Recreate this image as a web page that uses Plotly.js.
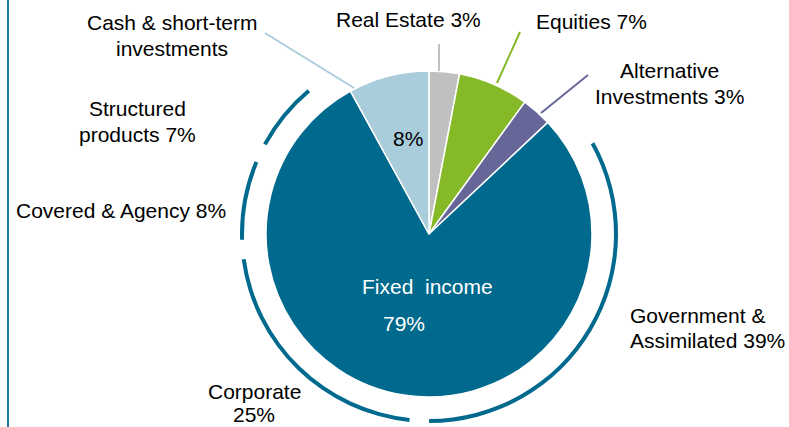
<!DOCTYPE html>
<html><head><meta charset="utf-8">
<script src="https://cdn.plot.ly/plotly-3.0.1.min.js"></script>
<style>html,body{margin:0;padding:0;background:#fff}</style>
</head><body><div id="chart" style="width:789px;height:427px"></div>
<script>
// ---- data ----
const assetClasses = ['Real Estate', 'Equities', 'Alternative Investments', 'Fixed income', 'Cash & short-term investments'];
const assetShares = [3, 7, 3, 79, 8];
const fixedIncomeSegments = ['Government & Assimilated', 'Corporate', 'Covered & Agency', 'Structured products'];
const fixedIncomeShares = [39, 25, 8, 7];

// ---- styles ----
const assetColors = ['#c0c0c0', '#86b928', '#666699', '#006a8e', '#aacddb'];
const ringColor = '#006a8e';
const W = 789, H = 427;
const FONT = 'Liberation Sans, Arial, sans-serif';
const px = x => x / W, py = y => 1 - y / H;

// main pie geometry (pixels)
const cx = 429, cy = 234, r = 163, rr = 189, ringW = 4;
// ring arc range (degrees clockwise from 12 o'clock) and gap between arcs
const arcStart = 61, arcEnd = 320, arcGap = 6;

const sumSub = fixedIncomeShares.reduce((a, b) => a + b, 0);
const degPerUnit = (arcEnd - arcStart - arcGap * (fixedIncomeShares.length - 1)) / sumSub;
const ringVals = [arcStart], ringCols = ['rgba(0,0,0,0)'], ringLabels = ['gap0'];
fixedIncomeShares.forEach((v, i) => {
  if (i > 0) { ringVals.push(arcGap); ringCols.push('rgba(0,0,0,0)'); ringLabels.push('gap' + i); }
  ringVals.push(v * degPerUnit); ringCols.push(ringColor); ringLabels.push(fixedIncomeSegments[i]);
});
ringVals.push(360 - arcEnd); ringCols.push('rgba(0,0,0,0)'); ringLabels.push('gapEnd');

const mainPie = {
  type: 'pie', values: assetShares, labels: assetClasses, sort: false, direction: 'clockwise', rotation: 0,
  marker: {colors: assetColors, line: {color: '#ffffff', width: 1.5}},
  textinfo: 'none', hoverinfo: 'skip', showlegend: false,
  domain: {x: [px(cx - r), px(cx + r)], y: [py(cy + r), py(cy - r)]}
};
const ringPie = {
  type: 'pie', values: ringVals, labels: ringLabels, sort: false, direction: 'clockwise', rotation: 0,
  hole: (rr - ringW) / rr,
  marker: {colors: ringCols, line: {width: 0}},
  textinfo: 'none', hoverinfo: 'skip', showlegend: false,
  domain: {x: [px(cx - rr), px(cx + rr)], y: [py(cy + rr), py(cy - rr)]}
};

const pct = v => v + '%';
// label lines: [text, x, y, anchor, color]
const labelLines = [
  ['Cash & short-term', 172, 23, 'center', '#000'],
  ['investments', 172, 48, 'center', '#000'],
  [assetClasses[0] + ' ' + pct(assetShares[0]), 408, 19, 'center', '#000'],
  [assetClasses[1] + ' ' + pct(assetShares[1]), 591, 21, 'center', '#000'],
  ['Alternative', 669, 71, 'center', '#000'],
  ['Investments ' + pct(assetShares[2]), 669, 96, 'center', '#000'],
  ['Structured', 137, 108, 'center', '#000'],
  ['products ' + pct(fixedIncomeShares[3]), 137, 134, 'center', '#000'],
  [fixedIncomeSegments[2] + ' ' + pct(fixedIncomeShares[2]), 121, 210, 'center', '#000'],
  ['Government &', 628, 315, 'left', '#000'],
  ['Assimilated ' + pct(fixedIncomeShares[0]), 628, 340, 'left', '#000'],
  [fixedIncomeSegments[1], 254, 391, 'center', '#000'],
  [pct(fixedIncomeShares[1]), 254, 414, 'center', '#000'],
  [pct(assetShares[4]), 408, 139, 'center', '#000'],
  ['Fixed&nbsp;&nbsp;income', 427, 286, 'center', '#fff'],
  [pct(assetShares[3]), 404, 323, 'center', '#fff']
];
const annotations = labelLines.map(([t, x, y, a, c]) => ({
  text: t, xref: 'paper', yref: 'paper', x: px(x), y: py(y), xanchor: a, yanchor: 'middle',
  showarrow: false, font: {family: FONT, size: 21, color: c}
}));

const leader = (x0, y0, x1, y1, c) => ({type: 'line', xref: 'paper', yref: 'paper',
  x0: px(x0), y0: py(y0), x1: px(x1), y1: py(y1), line: {color: c, width: 2}});
const shapes = [
  leader(265, 33, 354, 88, assetColors[4]),
  leader(439, 44, 439, 71, assetColors[0]),
  leader(520, 32, 497, 83, assetColors[1]),
  leader(588, 75, 541, 113, assetColors[2]),
  {type: 'line', xref: 'paper', yref: 'paper', x0: px(8), x1: px(8), y0: 0, y1: 1, line: {color: '#1c7ba0', width: 2}}
];

Plotly.newPlot('chart', [mainPie, ringPie], {
  width: W, height: H, margin: {l: 0, r: 0, t: 0, b: 0},
  paper_bgcolor: '#fff', plot_bgcolor: '#fff', showlegend: false,
  annotations, shapes, font: {family: FONT}
}, {staticPlot: true, displayModeBar: false});
</script></body></html>
